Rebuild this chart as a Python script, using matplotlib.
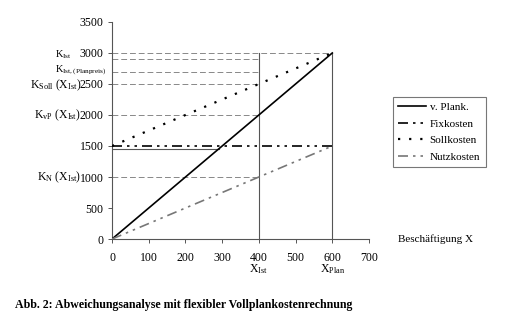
import matplotlib
matplotlib.use("Agg")
import matplotlib.pyplot as plt

plt.rcParams['font.family'] = ['Liberation Serif', 'DejaVu Serif']
plt.rcParams['mathtext.fontset'] = 'custom'
plt.rcParams['mathtext.rm'] = 'Liberation Serif'
plt.rcParams['mathtext.it'] = 'Liberation Serif:italic'

x_end = [0, 600]
v_plank = [0, 3000]
fixkosten = [1500, 1500]
sollkosten = [1500, 3000]
nutzkosten = [0, 1500]

x_ist, x_plan = 400, 600
ref_levels_ist = [2900, 2700, 2500, 2000, 1000]
ref_top = 3000
kvp_line = 1450
kvp_line_end = 292

# (label y position, text, alignment)
left_labels = [(2970, r"K$_{\mathrm{Ist}}$", 'left'),
               (2725, r"K$_{\mathrm{Ist,(Planpreis)}}$", 'left'),
               (2480, r"K$_{\mathrm{Soll}}$ (X$_{\mathrm{Ist}}$)", 'right'),
               (2000, r"K$_{\mathrm{vP}}$ (X$_{\mathrm{Ist}}$)", 'right'),
               (1000, r"K$_{\mathrm{N}}$ (X$_{\mathrm{Ist}}$)", 'right')]

fig = plt.figure(figsize=(5.26, 3.23), dpi=100)
ax = fig.add_axes([0.213, 0.26, 0.4885, 0.672])

grey = '#888888'
for lv in ref_levels_ist:
    ax.plot([0, x_ist], [lv, lv], color=grey, lw=0.7, ls=(0, (6, 3)), zorder=1)
ax.plot([0, x_plan], [ref_top, ref_top], color=grey, lw=0.7, ls=(0, (6, 3)), zorder=1)
ax.plot([0, kvp_line_end], [kvp_line, kvp_line], color='#555555', lw=0.8, zorder=1)
ax.plot([x_ist, x_ist], [0, ref_top], color='#555555', lw=0.8, zorder=1)
ax.plot([x_plan, x_plan], [0, ref_top], color='#555555', lw=0.8, zorder=1)

ax.plot(x_end, v_plank, color='black', lw=1.2, label='v. Plank.', zorder=3)
ax.plot(x_end, fixkosten, color='black', lw=1.2, ls=(0, (6, 3, 1.5, 3, 1.5, 3)), label='Fixkosten', zorder=3)
ax.plot(x_end, sollkosten, color='black', lw=1.6, ls=(0, (1, 4)), label='Sollkosten', zorder=3)
ax.plot(x_end, nutzkosten, color='#777777', lw=1.2, ls=(0, (6, 3, 1.5, 3, 1.5, 3)), label='Nutzkosten', zorder=3)

ax.set_xlim(0, 700)
ax.set_ylim(0, 3500)
ax.set_xticks(range(0, 701, 100))
ax.set_yticks(range(0, 3501, 500))
ax.spines['top'].set_visible(False)
ax.spines['right'].set_visible(False)
for s in ['left', 'bottom']:
    ax.spines[s].set_color('#555555')
    ax.spines[s].set_linewidth(0.8)
ax.tick_params(direction='out', length=3, width=0.7, color='#555555', labelsize=8.5, pad=3)
ax.tick_params(axis='x', pad=6)

for lv, txt, ha in left_labels:
    xpos = -155 if ha == 'left' else -84
    fs = 7.5 if ha == 'left' else 8.5
    ax.text(xpos, lv, txt, ha=ha, va='center', fontsize=fs, clip_on=False)

ax.text(x_ist, -370, r"X$_{\mathrm{Ist}}$", ha='center', va='top', fontsize=8.5)
ax.text(x_plan, -370, r"X$_{\mathrm{Plan}}$", ha='center', va='top', fontsize=8.5)
ax.text(780, 0, "Beschäftigung X", ha='left', va='center', fontsize=8, clip_on=False)

leg = ax.legend(loc='upper left', bbox_to_anchor=(1.093, 0.655), fontsize=8, frameon=True,
                fancybox=False, edgecolor='#555555', handlelength=2.5, borderpad=0.5,
                labelspacing=0.6, handletextpad=0.3, borderaxespad=0)
leg.get_frame().set_linewidth(0.8)

fig.text(0.028, 0.055, "Abb. 2: Abweichungsanalyse mit flexibler Vollplankostenrechnung",
         fontsize=8.6, fontweight='bold', ha='left', va='center')

fig.savefig('out.png', dpi=100)
